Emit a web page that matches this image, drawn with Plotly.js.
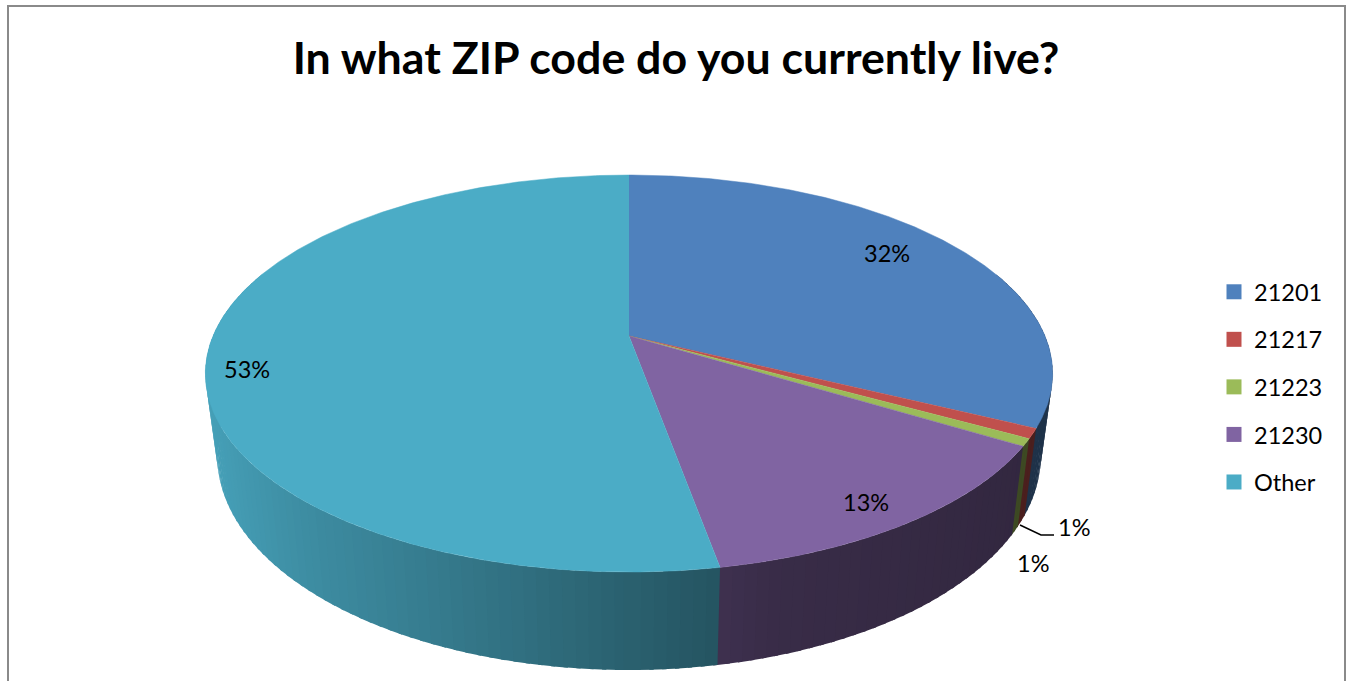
<!DOCTYPE html>
<html><head><meta charset="utf-8">
<script src="https://cdn.plot.ly/plotly-3.0.1.min.js"></script>
<style>html,body{margin:0;padding:0;background:#fff}#c{width:1351px;height:681px}</style>
</head><body><div id="c"></div>
<script>
const categories = ['21201','21217','21223','21230','Other'];
const values = [32.3, 0.8, 0.6, 13.45, 52.85];
const colors = ['#4F81BD','#C0504D','#9BBB59','#8064A2','#4BACC6'];

// Perspective of the disc, in the pixel-sized axis units
const CX=629, CY=336, K=0.189, P=-127.9, Q=416, DEPTH=79.5, SHRINK=0.972;
const FONT='Lato, "Open Sans", sans-serif';
const shadeX=[205,300,490,717,780,1000,1060], shadeF=[0.93,0.82,0.67,0.49,0.44,0.40,0.38];

function proj(th,r,low){
  const u=r*Math.sin(th), v=r*Math.cos(th), w=1+K*v;
  return low ? [CX+Q*SHRINK*u/w,(CY+P*v+DEPTH)/w] : [CX+Q*u/w,(CY+P*v)/w];
}
function shade(hex,x){
  let f=shadeF[shadeF.length-1];
  for(let i=0;i<shadeX.length-1;i++){
    if(x<=shadeX[i+1]){const t=Math.max(0,(x-shadeX[i])/(shadeX[i+1]-shadeX[i]));f=shadeF[i]+t*(shadeF[i+1]-shadeF[i]);break;}
  }
  const n=parseInt(hex.slice(1),16);
  return `rgb(${Math.round((n>>16)*f)},${Math.round(((n>>8)&255)*f)},${Math.round((n&255)*f)})`;
}
const total=values.reduce((a,b)=>a+b,0);
const slices=[];let cum=0;
values.forEach((val,i)=>{const a=cum/total*2*Math.PI;cum+=val;slices.push({i,a,b:cum/total*2*Math.PI});});

const deg=Math.PI/180, STEP=1.5*deg, VIS0=70*deg, VIS1=290*deg, OVER=0.5*deg;
const strips=[];
slices.forEach(s=>{
  const a=Math.max(s.a,VIS0), b=Math.min(s.b,VIS1);
  if(b<=a) return;
  const n=Math.max(1,Math.ceil((b-a)/STEP));
  for(let j=0;j<n;j++) strips.push({i:s.i,t0:a+(b-a)*j/n,t1:a+(b-a)*(j+1)/n});
});
strips.sort((p,q)=>Math.cos((q.t0+q.t1)/2)-Math.cos((p.t0+p.t1)/2));

const traces=[];
strips.forEach(st=>{
  // each strip runs a little under the next one toward the front, so no seams show
  const front=(st.t0+st.t1)/2<Math.PI;
  const t0=front?st.t0:st.t0-OVER, t1=front?st.t1+OVER:st.t1;
  const p=[proj(t0,1,0),proj(t1,1,0),proj(t1,1,1),proj(t0,1,1)];
  const mid=proj((st.t0+st.t1)/2,1,0);
  const col=shade(colors[st.i],mid[0]);
  traces.push({type:'scatter',mode:'lines',x:p.map(d=>d[0]),y:p.map(d=>d[1]),fill:'toself',fillcolor:col,
    line:{width:0},hoverinfo:'skip',showlegend:false});
});
slices.forEach(s=>{
  const xs=[CX],ys=[CY],n=Math.max(2,Math.ceil((s.b-s.a)/(0.5*deg)));
  for(let j=0;j<=n;j++){const d=proj(s.a+(s.b-s.a)*j/n,1,0);xs.push(d[0]);ys.push(d[1]);}
  traces.push({type:'scatter',mode:'lines',x:xs,y:ys,fill:'toself',fillcolor:colors[s.i],
    line:{color:colors[s.i],width:0.5},name:categories[s.i],hoverinfo:'name',showlegend:false});
});
categories.forEach((c,i)=>{
  traces.push({type:'scatter',mode:'markers',x:[null],y:[null],name:c,legendgroup:c,showlegend:true,
    marker:{symbol:'square',size:15,color:colors[i]}});
});

const labelAt=[[887,253],[1074,527],[1033,563],[866,502],[247,369]];
const annotations=values.map((v,i)=>({x:labelAt[i][0],y:labelAt[i][1],xref:'x',yref:'y',text:Math.round(v)+'%',
  showarrow:false,xanchor:'center',yanchor:'middle',font:{family:FONT,size:23.5,color:'#000'}}));

const layout={
  width:1351,height:681,margin:{l:0,r:0,t:0,b:0,pad:0},autosize:false,
  paper_bgcolor:'#fff',plot_bgcolor:'#fff',
  title:{text:'In what ZIP code do you currently live?',font:{family:FONT,size:44.7,color:'#000',weight:700},
    x:676/1351,xanchor:'center',xref:'paper',y:1-58/681,yanchor:'middle',yref:'paper'},
  xaxis:{range:[0,1351],visible:false,fixedrange:true},
  yaxis:{range:[681,0],visible:false,fixedrange:true},
  showlegend:true,
  legend:{x:1214/1351,xanchor:'left',y:1-270/681,yanchor:'top',tracegroupgap:14,bgcolor:'rgba(0,0,0,0)',
    borderwidth:0,font:{family:FONT,size:23.5,color:'#000'},traceorder:'grouped'},
  annotations,
  shapes:[
    {type:'path',path:'M 8 690 L 8 6 L 1345 6 L 1345 690',xref:'x',yref:'y',line:{color:'#8a8a8a',width:2},layer:'below'},
    {type:'path',path:'M 1020 525 L 1041 535 L 1054 535',xref:'x',yref:'y',line:{color:'#000',width:1.5},layer:'above'}
  ]
};
Plotly.newPlot('c',traces,layout,{displayModeBar:false,staticPlot:true});
</script></body></html>
